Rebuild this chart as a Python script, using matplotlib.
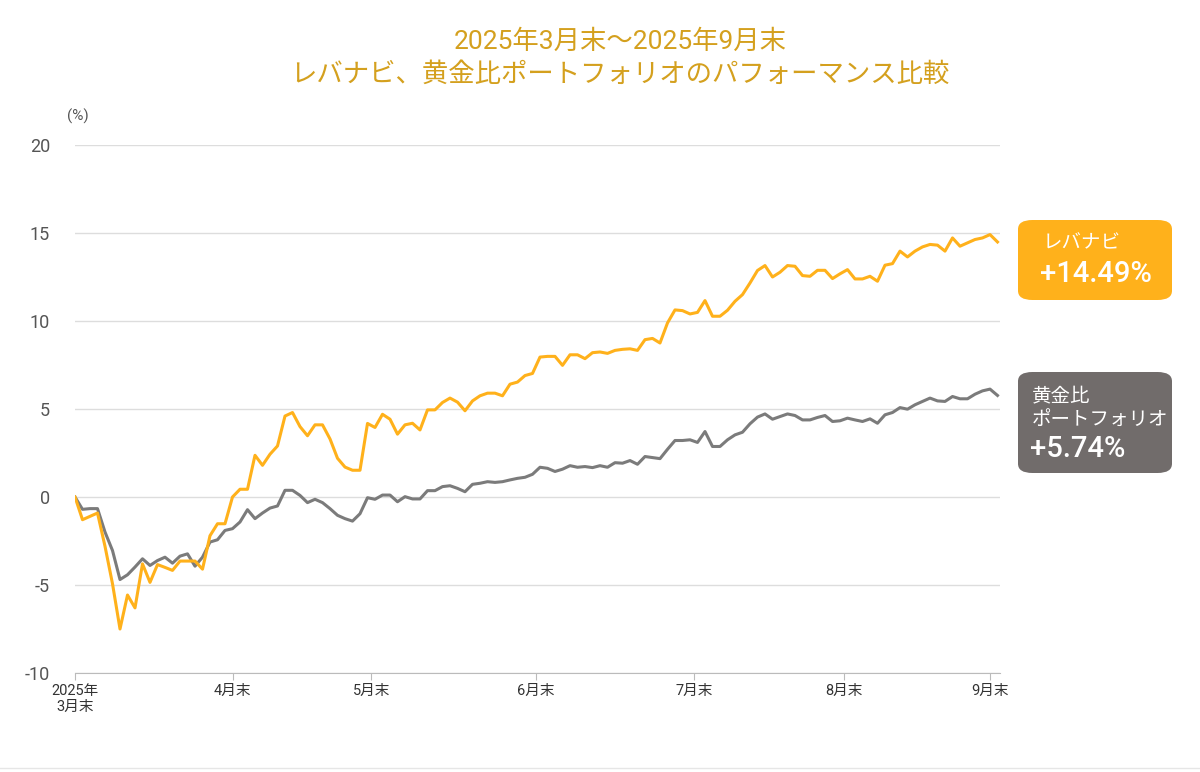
import matplotlib
matplotlib.use("Agg")
import matplotlib.pyplot as plt
from matplotlib.patches import FancyBboxPatch

plt.rcParams['font.family'] = ['Roboto', 'Noto Sans CJK JP', 'DejaVu Sans']

lev = [0, -1.29, -1.1, -0.91, -2.8, -4.93, -7.5, -5.57, -6.3, -3.8, -4.85, -3.84, -4.0, -4.17, -3.64,
       -3.64, -3.64, -4.1, -2.2, -1.52, -1.52, 0, 0.44, 0.44, 2.37, 1.8, 2.43, 2.9, 4.6, 4.8,
       4.0, 3.48, 4.1, 4.1, 3.3, 2.2, 1.7, 1.52, 1.52, 4.18, 3.95, 4.7, 4.42, 3.57, 4.1,
       4.19, 3.81, 4.95, 4.95, 5.37, 5.62, 5.39, 4.9, 5.46, 5.75, 5.9, 5.9, 5.75, 6.41, 6.53,
       6.9, 7.02, 7.95, 7.99, 7.99, 7.48, 8.08, 8.08, 7.86, 8.2, 8.24, 8.16, 8.33, 8.39, 8.42,
       8.33, 8.94, 9.01, 8.75, 9.89, 10.63, 10.59, 10.4, 10.49, 11.16, 10.27, 10.27, 10.61, 11.12, 11.5,
       12.16, 12.87, 13.15, 12.5, 12.77, 13.15, 13.11, 12.58, 12.54, 12.88, 12.88, 12.41, 12.68, 12.92, 12.39,
       12.39, 12.54, 12.26, 13.17, 13.26, 13.97, 13.64, 13.97, 14.21, 14.35, 14.31, 13.97, 14.72, 14.25, 14.44,
       14.63, 14.72, 14.91, 14.49]
gold = [0, -0.70, -0.66, -0.66, -1.99, -3.04, -4.69, -4.42, -3.98, -3.51, -3.89, -3.61, -3.42, -3.76, -3.36,
        -3.23, -3.93, -3.42, -2.56, -2.43, -1.90, -1.80, -1.42, -0.72, -1.23, -0.91, -0.63, -0.51, 0.38, 0.38,
        0.09, -0.32, -0.13, -0.32, -0.66, -1.04, -1.23, -1.37, -0.95, -0.04, -0.13, 0.11, 0.11, -0.27, 0.02,
        -0.11, -0.11, 0.36, 0.36, 0.59, 0.64, 0.49, 0.30, 0.72, 0.78, 0.87, 0.83, 0.87, 0.97, 1.06,
        1.12, 1.29, 1.69, 1.63, 1.45, 1.58, 1.78, 1.69, 1.73, 1.67, 1.78, 1.69, 1.95, 1.92, 2.07,
        1.86, 2.30, 2.24, 2.18, 2.71, 3.21, 3.21, 3.25, 3.1, 3.72, 2.87, 2.87, 3.25, 3.53, 3.68,
        4.16, 4.54, 4.72, 4.42, 4.57, 4.72, 4.63, 4.38, 4.38, 4.52, 4.63, 4.29, 4.33, 4.48, 4.38,
        4.29, 4.44, 4.19, 4.67, 4.80, 5.08, 4.99, 5.24, 5.43, 5.62, 5.46, 5.43, 5.71, 5.58, 5.58,
        5.84, 6.03, 6.13, 5.77]
tick_pos = [0, 21, 39.5, 61.5, 82.5, 102.5, 122]
tick_labels = ['2025年\n3月末', '4月末', '5月末', '6月末', '7月末', '8月末', '9月末']
yticks = [-10, -5, 0, 5, 10, 15, 20]
title = '2025年3月末～2025年9月末\nレバナビ、黄金比ポートフォリオのパフォーマンス比較'

W, H = 1200, 772
fig = plt.figure(figsize=(12, 7.72), dpi=100)
ax = fig.add_axes([75 / W, 1 - 673 / H, 925 / W, 528 / H])
x = list(range(len(lev)))
ax.plot(x, gold, color='#7b7b7b', lw=2.2, zorder=3)
ax.plot(x, lev, color='#FFB11B', lw=2.2, zorder=4)
ax.set_xlim(0, 925 / 7.5)
ax.set_ylim(-10, 20)
ax.set_yticks(yticks)
ax.set_yticklabels([str(v) for v in yticks], fontsize=13, color='#555555')
ax.set_xticks(tick_pos)
ax.set_xticklabels(tick_labels, fontsize=10.5, color='#333333', linespacing=1.2)
ax.grid(axis='y', color='#dddddd', lw=1)
for s in ['top', 'right', 'left']:
    ax.spines[s].set_visible(False)
ax.spines['bottom'].set_color('#bbbbbb')
ax.tick_params(axis='y', length=0, pad=18)
ax.tick_params(axis='x', length=5, color='#bbbbbb', pad=3)
ax.set_axisbelow(True)

fig.text(78 / W, 1 - 116 / H, '(%)', fontsize=11, color='#555555', ha='center', va='center')
fig.text(620 / W, 1 - 58 / H, title, fontsize=19, color='#D4A01E', ha='center', va='center',
         linespacing=1.45)

def box(x0, y0, x1, y1, color):
    p = FancyBboxPatch((x0 / W, 1 - y1 / H), (x1 - x0) / W, (y1 - y0) / H,
                       boxstyle='round,pad=0,rounding_size=0.012', transform=fig.transFigure,
                       facecolor=color, edgecolor='none')
    fig.add_artist(p)

box(1018, 220, 1172, 300, '#FFB11B')
fig.text(1043 / W, 1 - 243 / H, 'レバナビ', fontsize=14, color='white', va='center')
fig.text(1040 / W, 1 - 274 / H, '+14.49%', fontsize=21, color='white', va='center', weight='medium')
box(1018, 372, 1172, 473, '#716C6B')
fig.text(1032 / W, 1 - 396 / H, '黄金比', fontsize=14, color='white', va='center')
fig.text(1032 / W, 1 - 420 / H, 'ポートフォリオ', fontsize=14, color='white', va='center')
fig.text(1030 / W, 1 - 449 / H, '+5.74%', fontsize=21, color='white', va='center', weight='medium')
fig.add_artist(plt.Line2D([0, 1], [1 - 768 / H] * 2, transform=fig.transFigure, color='#e6e6e6', lw=1))

fig.savefig('out.png', dpi=100, facecolor='white')
